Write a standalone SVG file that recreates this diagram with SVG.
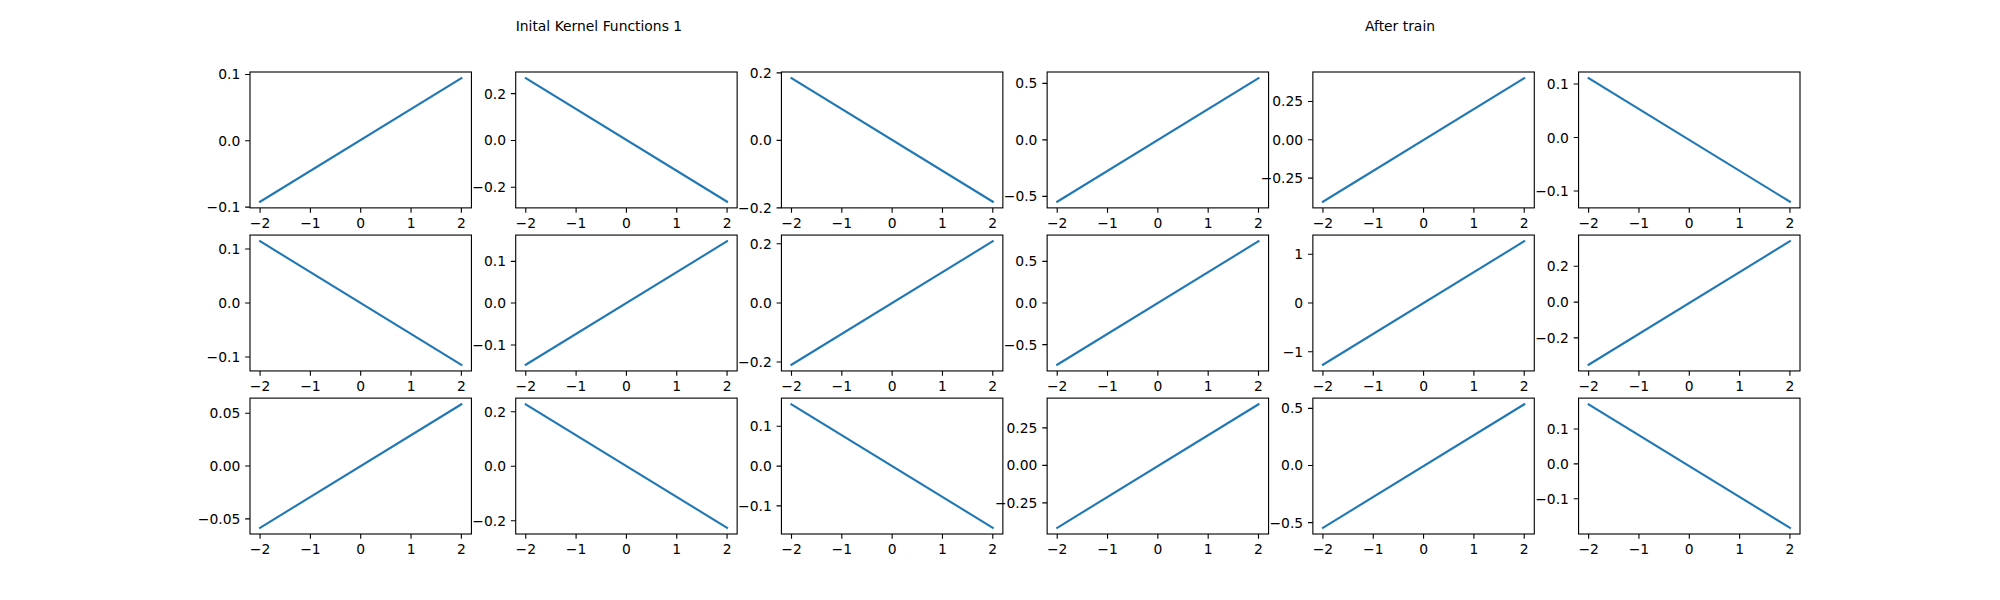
<svg xmlns="http://www.w3.org/2000/svg" xmlns:xlink="http://www.w3.org/1999/xlink" width="2000" height="600" viewBox="0 0 2000 600">
<style>
text{font-family:"DejaVu Sans","Liberation Sans",sans-serif;font-size:13.89px;fill:#000}
.frame{fill:#fff;stroke:#000;stroke-width:1.11}
.tk{stroke:#000;stroke-width:1.11;fill:none}
.ln{stroke:#1f77b4;stroke-width:2.08;fill:none;stroke-linecap:square}
.yl{text-anchor:end}
.xl{text-anchor:middle}
</style>
<defs>
<g id="xaxis">
<path class="tk" d="M10.07 135.88v4.86M60.39 135.88v4.86M110.71 135.88v4.86M161.04 135.88v4.86M211.36 135.88v4.86"/>
<text class="xl" x="10.07" y="156.3">−2</text>
<text class="xl" x="60.39" y="156.3">−1</text>
<text class="xl" x="110.71" y="156.3">0</text>
<text class="xl" x="161.04" y="156.3">1</text>
<text class="xl" x="211.36" y="156.3">2</text>
</g>
<path id="up" class="ln" d="M10.07 129.7L211.36 6.18"/>
<path id="down" class="ln" d="M10.07 6.18L211.36 129.7"/>
<rect id="box" class="frame" x="0" y="0" width="221.43" height="135.88"/>
</defs>
<rect width="2000" height="600" fill="#fff"/>
<g id="titles">
<text x="515.7" y="30.5">Inital Kernel Functions 1</text>
<text x="1365" y="30.5">After train</text>
</g>

<!-- Row 1 -->
<g id="ax-1-1" transform="translate(250,72)">
<use xlink:href="#box"/><use xlink:href="#up"/><use xlink:href="#xaxis"/>
<path class="tk" d="M-4.86 2.47H0M-4.86 68.77H0M-4.86 135.07H0"/>
<text class="yl" x="-9.7" y="7.47">0.1</text>
<text class="yl" x="-9.7" y="73.77">0.0</text>
<text class="yl" x="-9.7" y="140.07">−0.1</text>
</g>
<g id="ax-1-2" transform="translate(515.71,72)">
<use xlink:href="#box"/><use xlink:href="#down"/><use xlink:href="#xaxis"/>
<path class="tk" d="M-4.86 21.63H0M-4.86 68.43H0M-4.86 115.23H0"/>
<text class="yl" x="-9.7" y="26.63">0.2</text>
<text class="yl" x="-9.7" y="73.43">0.0</text>
<text class="yl" x="-9.7" y="120.23">−0.2</text>
</g>
<g id="ax-1-3" transform="translate(781.43,72)">
<use xlink:href="#box"/><use xlink:href="#down"/><use xlink:href="#xaxis"/>
<path class="tk" d="M-4.86 0.83H0M-4.86 68.33H0M-4.86 135.83H0"/>
<text class="yl" x="-9.7" y="5.83">0.2</text>
<text class="yl" x="-9.7" y="73.33">0.0</text>
<text class="yl" x="-9.7" y="140.83">−0.2</text>
</g>
<g id="ax-1-4" transform="translate(1047.14,72)">
<use xlink:href="#box"/><use xlink:href="#up"/><use xlink:href="#xaxis"/>
<path class="tk" d="M-4.86 11.4H0M-4.86 67.9H0M-4.86 124.4H0"/>
<text class="yl" x="-9.7" y="16.4">0.5</text>
<text class="yl" x="-9.7" y="72.9">0.0</text>
<text class="yl" x="-9.7" y="129.4">−0.5</text>
</g>
<g id="ax-1-5" transform="translate(1312.86,72)">
<use xlink:href="#box"/><use xlink:href="#up"/><use xlink:href="#xaxis"/>
<path class="tk" d="M-4.86 29.47H0M-4.86 67.77H0M-4.86 106.07H0"/>
<text class="yl" x="-9.7" y="34.47">0.25</text>
<text class="yl" x="-9.7" y="72.77">0.00</text>
<text class="yl" x="-9.7" y="111.07">−0.25</text>
</g>
<g id="ax-1-6" transform="translate(1578.57,72)">
<use xlink:href="#box"/><use xlink:href="#down"/><use xlink:href="#xaxis"/>
<path class="tk" d="M-4.86 12.03H0M-4.86 65.53H0M-4.86 119.03H0"/>
<text class="yl" x="-9.7" y="17.03">0.1</text>
<text class="yl" x="-9.7" y="70.53">0.0</text>
<text class="yl" x="-9.7" y="124.03">−0.1</text>
</g>

<!-- Row 2 -->
<g id="ax-2-1" transform="translate(250,235.06)">
<use xlink:href="#box"/><use xlink:href="#down"/><use xlink:href="#xaxis"/>
<path class="tk" d="M-4.86 13.94H0M-4.86 67.94H0M-4.86 121.94H0"/>
<text class="yl" x="-9.7" y="18.94">0.1</text>
<text class="yl" x="-9.7" y="72.94">0.0</text>
<text class="yl" x="-9.7" y="126.94">−0.1</text>
</g>
<g id="ax-2-2" transform="translate(515.71,235.06)">
<use xlink:href="#box"/><use xlink:href="#up"/><use xlink:href="#xaxis"/>
<path class="tk" d="M-4.86 26.34H0M-4.86 67.94H0M-4.86 109.94H0"/>
<text class="yl" x="-9.7" y="31.34">0.1</text>
<text class="yl" x="-9.7" y="72.94">0.0</text>
<text class="yl" x="-9.7" y="114.94">−0.1</text>
</g>
<g id="ax-2-3" transform="translate(781.43,235.06)">
<use xlink:href="#box"/><use xlink:href="#up"/><use xlink:href="#xaxis"/>
<path class="tk" d="M-4.86 8.64H0M-4.86 67.94H0M-4.86 126.94H0"/>
<text class="yl" x="-9.7" y="13.64">0.2</text>
<text class="yl" x="-9.7" y="72.94">0.0</text>
<text class="yl" x="-9.7" y="131.94">−0.2</text>
</g>
<g id="ax-2-4" transform="translate(1047.14,235.06)">
<use xlink:href="#box"/><use xlink:href="#up"/><use xlink:href="#xaxis"/>
<path class="tk" d="M-4.86 26.29H0M-4.86 67.94H0M-4.86 109.59H0"/>
<text class="yl" x="-9.7" y="31.29">0.5</text>
<text class="yl" x="-9.7" y="72.94">0.0</text>
<text class="yl" x="-9.7" y="114.59">−0.5</text>
</g>
<g id="ax-2-5" transform="translate(1312.86,235.06)">
<use xlink:href="#box"/><use xlink:href="#up"/><use xlink:href="#xaxis"/>
<path class="tk" d="M-4.86 19.24H0M-4.86 67.94H0M-4.86 116.64H0"/>
<text class="yl" x="-9.7" y="24.24">1</text>
<text class="yl" x="-9.7" y="72.94">0</text>
<text class="yl" x="-9.7" y="121.64">−1</text>
</g>
<g id="ax-2-6" transform="translate(1578.57,235.06)">
<use xlink:href="#box"/><use xlink:href="#up"/><use xlink:href="#xaxis"/>
<path class="tk" d="M-4.86 31.24H0M-4.86 67.04H0M-4.86 102.84H0"/>
<text class="yl" x="-9.7" y="36.24">0.2</text>
<text class="yl" x="-9.7" y="72.04">0.0</text>
<text class="yl" x="-9.7" y="107.84">−0.2</text>
</g>

<!-- Row 3 -->
<g id="ax-3-1" transform="translate(250,398.12)">
<use xlink:href="#box"/><use xlink:href="#up"/><use xlink:href="#xaxis"/>
<path class="tk" d="M-4.86 15.14H0M-4.86 67.94H0M-4.86 120.74H0"/>
<text class="yl" x="-9.7" y="20.14">0.05</text>
<text class="yl" x="-9.7" y="72.94">0.00</text>
<text class="yl" x="-9.7" y="125.74">−0.05</text>
</g>
<g id="ax-3-2" transform="translate(515.71,398.12)">
<use xlink:href="#box"/><use xlink:href="#down"/><use xlink:href="#xaxis"/>
<path class="tk" d="M-4.86 13.68H0M-4.86 68.18H0M-4.86 122.68H0"/>
<text class="yl" x="-9.7" y="18.68">0.2</text>
<text class="yl" x="-9.7" y="73.18">0.0</text>
<text class="yl" x="-9.7" y="127.68">−0.2</text>
</g>
<g id="ax-3-3" transform="translate(781.43,398.12)">
<use xlink:href="#box"/><use xlink:href="#down"/><use xlink:href="#xaxis"/>
<path class="tk" d="M-4.86 28.18H0M-4.86 67.98H0M-4.86 107.78H0"/>
<text class="yl" x="-9.7" y="33.18">0.1</text>
<text class="yl" x="-9.7" y="72.98">0.0</text>
<text class="yl" x="-9.7" y="112.78">−0.1</text>
</g>
<g id="ax-3-4" transform="translate(1047.14,398.12)">
<use xlink:href="#box"/><use xlink:href="#up"/><use xlink:href="#xaxis"/>
<path class="tk" d="M-4.86 29.78H0M-4.86 67.28H0M-4.86 104.78H0"/>
<text class="yl" x="-9.7" y="34.78">0.25</text>
<text class="yl" x="-9.7" y="72.28">0.00</text>
<text class="yl" x="-9.7" y="109.78">−0.25</text>
</g>
<g id="ax-3-5" transform="translate(1312.86,398.12)">
<use xlink:href="#box"/><use xlink:href="#up"/><use xlink:href="#xaxis"/>
<path class="tk" d="M-4.86 10.23H0M-4.86 67.38H0M-4.86 124.53H0"/>
<text class="yl" x="-9.7" y="15.23">0.5</text>
<text class="yl" x="-9.7" y="72.38">0.0</text>
<text class="yl" x="-9.7" y="129.53">−0.5</text>
</g>
<g id="ax-3-6" transform="translate(1578.57,398.12)">
<use xlink:href="#box"/><use xlink:href="#down"/><use xlink:href="#xaxis"/>
<path class="tk" d="M-4.86 30.93H0M-4.86 65.78H0M-4.86 100.63H0"/>
<text class="yl" x="-9.7" y="35.93">0.1</text>
<text class="yl" x="-9.7" y="70.78">0.0</text>
<text class="yl" x="-9.7" y="105.63">−0.1</text>
</g>
<g id="connectors"/>
</svg>
